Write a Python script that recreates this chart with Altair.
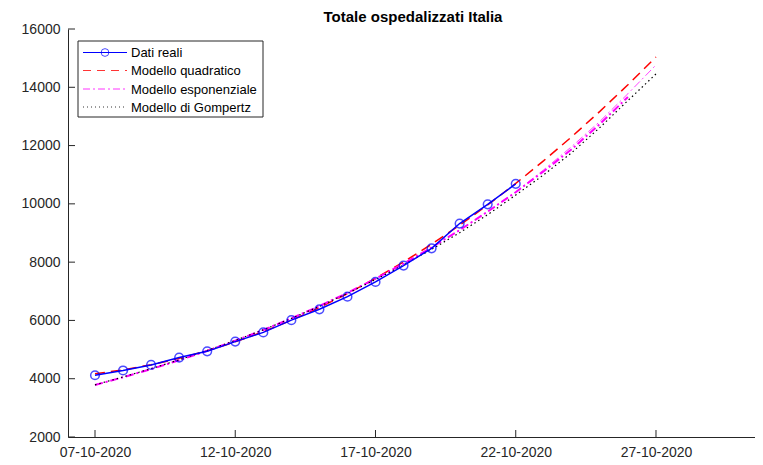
import altair as alt
import pandas as pd

# ---- data ----
tick_days = [0, 5, 10, 15, 20]
tick_labels = ["07-10-2020", "12-10-2020", "17-10-2020", "22-10-2020", "27-10-2020"]
y_ticks = [2000, 4000, 6000, 8000, 10000, 12000, 14000, 16000]

days_real = list(range(16))
dati_reali = [4119, 4283, 4473, 4726, 4939, 5273, 5590, 6009, 6382, 6816,
              7322, 7881, 8473, 9324, 9983, 10686]

days_model = list(range(21))
mod_quadratico = [4170, 4303, 4478, 4698, 4960, 5265, 5614, 6006, 6442, 6920,
                  7442, 8007, 8615, 9267, 9962, 10700, 11482, 12306, 13174, 14086, 15040]
mod_esponenziale = [3784, 4048, 4331, 4633, 4957, 5303, 5673, 6069, 6493, 6946,
                    7431, 7950, 8505, 9099, 9734, 10414, 11170, 11970, 12830, 13780, 14766]
mod_gompertz = [3790, 4060, 4345, 4648, 4970, 5312, 5678, 6068, 6484, 6928,
                7400, 7905, 8440, 9010, 9630, 10300, 11000, 11760, 12620, 13545, 14457]
days_extra = list(range(20))
mod_extra = [3784, 4048, 4331, 4633, 4957, 5303, 5673, 6069, 6493, 6946,
             7431, 7950, 8505, 9099, 9734, 10400, 11120, 11880, 12740, 13668]

legend_labels = ["Dati reali", "Modello quadratico", "Modello esponenziale", "Modello di Gompertz"]
title_text = "Totale ospedalizzati Italia"

FONT = "Liberation Sans"
AX = "#262626"

W, H = 687, 408
x_scale = alt.Scale(domain=[-0.9626, 23.53], nice=False, zero=False)
y_scale = alt.Scale(domain=[2000, 16000], nice=False, zero=False)

label_expr = "[" + ",".join("'%s'" % t for t in tick_labels) + "][round(datum.value/5)]"

df_real = pd.DataFrame({"day": days_real, "v": dati_reali})
df_q = pd.DataFrame({"day": days_model, "v": mod_quadratico})
df_e = pd.DataFrame({"day": days_model, "v": mod_esponenziale})
df_g = pd.DataFrame({"day": days_model, "v": mod_gompertz})
df_x = pd.DataFrame({"day": days_extra, "v": mod_extra})

X = alt.X("day:Q", scale=x_scale,
          axis=alt.Axis(values=tick_days, labelExpr=label_expr, title=None, grid=False,
                        ticks=False, domainColor=AX, domainWidth=1, labelColor=AX,
                        labelFont=FONT, labelFontSize=14, labelPadding=8, labelFlush=False))
Y = alt.Y("v:Q", scale=y_scale,
          axis=alt.Axis(values=y_ticks, format="d", title=None, grid=False, ticks=False,
                        domainColor=AX, domainWidth=1, labelColor=AX,
                        labelFont=FONT, labelFontSize=14, labelPadding=8))

def line(df, color, dash, width, opacity=1.0):
    kw = dict(color=color, strokeWidth=width, opacity=opacity, clip=True)
    if dash:
        kw["strokeDash"] = dash
    return alt.Chart(df).mark_line(**kw).encode(x=X, y=Y)

quad = line(df_q, "#FF0000", [10, 6], 1.5)
expo = line(df_e, "#FF44FF", [8, 3, 2, 3], 1.0)
extra = line(df_x, "#FF00FF", [8, 3, 2, 3], 2.0)
gomp = line(df_g, "#000000", [1.5, 3], 1.2)
real_line = line(df_real, "#0000FF", None, 1.5)
real_pts = alt.Chart(df_real).mark_point(shape="circle", filled=False, color="#0000FF",
                                         size=75, strokeWidth=1.5).encode(x=X, y=Y)

# inward tick marks
df_xt = pd.DataFrame({"day": tick_days})
df_yt = pd.DataFrame({"v": y_ticks})
xticks = alt.Chart(df_xt).mark_rule(color=AX, strokeWidth=1).encode(
    x=alt.X("day:Q", scale=x_scale), y=alt.value(H), y2=alt.value(H - 7))
yticks = alt.Chart(df_yt).mark_rule(color=AX, strokeWidth=1).encode(
    y=alt.Y("v:Q", scale=y_scale), x=alt.value(0), x2=alt.value(7))

one = pd.DataFrame({"a": [0]})
title = alt.Chart(one).mark_text(align="center", baseline="middle", font=FONT, fontSize=15,
                                 fontWeight="bold", color="black").encode(
    x=alt.value(345), y=alt.value(-12), text=alt.value(title_text))

# manual legend (MATLAB style)
layers_leg = [alt.Chart(one).mark_rect(fill="white", stroke=AX, strokeWidth=1).encode(
    x=alt.value(10), x2=alt.value(195), y=alt.value(12), y2=alt.value(88))]
rows_y = [23.5, 41.5, 60, 78]
styles = [("#0000FF", None, 1.0), ("#FF0000", [8, 6], 0.8),
          ("#FF00FF", [7, 3, 2, 3], 0.8), ("#000000", [1, 3], 0.8)]
for lab, yy, (c, d, w) in zip(legend_labels, rows_y, styles):
    kw = dict(color=c, strokeWidth=w)
    if d:
        kw["strokeDash"] = d
    layers_leg.append(alt.Chart(one).mark_rule(**kw).encode(
        x=alt.value(15), x2=alt.value(59), y=alt.value(yy)))
    layers_leg.append(alt.Chart(one).mark_text(align="left", baseline="middle", font=FONT,
                                               fontSize=13, color="black").encode(
        x=alt.value(63), y=alt.value(yy + 0.5), text=alt.value(lab)))
layers_leg.insert(2, alt.Chart(one).mark_point(shape="circle", filled=False, color="#0000FF",
                                               size=60, strokeWidth=1).encode(
    x=alt.value(37), y=alt.value(rows_y[0])))

chart = alt.layer(quad, expo, extra, gomp, real_line, real_pts, xticks, yticks, title,
                  *layers_leg).properties(
    width=W, height=H,
    autosize=alt.AutoSizeParams(type="none"),
    padding={"left": 60, "top": 21, "right": 0, "bottom": 25},
).configure_view(stroke=None)

chart.save("out.html", embed_options={"renderer": "svg", "actions": False})
